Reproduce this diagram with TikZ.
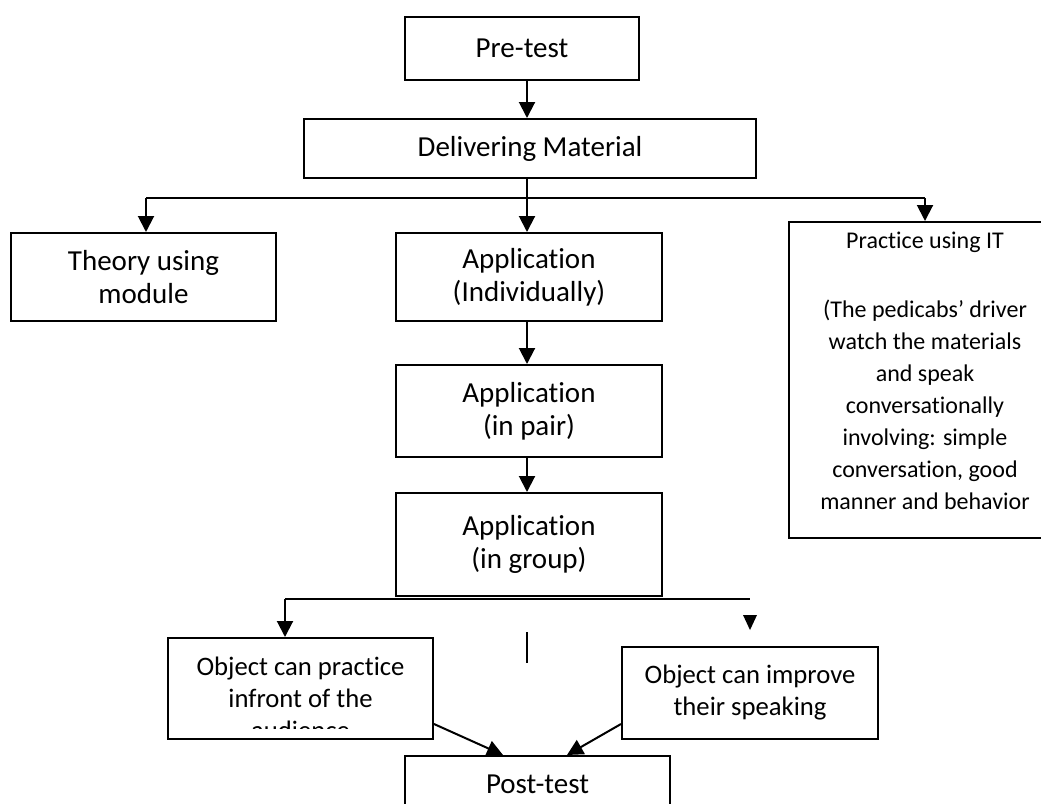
\documentclass[tikz,border=0pt]{standalone}
\usepackage{fontspec}
\setmainfont[Ligatures=NoCommon]{Carlito}
\usetikzlibrary{arrows.meta,calc}
\begin{document}
\begin{tikzpicture}[x=0.75pt,y=-0.75pt,
  box/.style={draw, line width=1.5pt, inner sep=0pt, align=center},
  big/.style={font=\fontsize{21.75}{24.75}\selectfont},
  mid/.style={font=\fontsize{20}{24}\selectfont},
  txt/.style={inner sep=0pt, align=center},
  line/.style={line width=1.5pt},
  arr/.style={line width=1.5pt, -{Triangle[length=12pt,width=12pt]}},
]
\clip (0,0) rectangle (1041,803);
\useasboundingbox (0,0) rectangle (1041,803);

\node[box, big, minimum width=175.5pt, minimum height=47.25pt] (pre) at (522,48.5) {Pre-test};
\node[box, big, minimum width=339pt, minimum height=44.25pt] (deliv) at (530,148.5) {Delivering Material};
\node[box, big, minimum width=198.75pt, minimum height=66pt] (theory) at (143.5,277) {Theory using\\module};
\node[box, big, minimum width=199.5pt, minimum height=66pt] (appind) at (529,277) {Application\\(Individually)};
\node[box, minimum width=204pt, minimum height=237pt] (practice) at (925,380)
  {\parbox[c][237pt][t]{204pt}{\centering\fontsize{18}{24}\selectfont
   \rule{0pt}{20pt}Practice using IT\\[27.75pt]
   (The pedicabs’ driver\\watch the materials\\and speak\\conversationally\\involving: simple\\conversation, good\\manner and behavior}};
\node[box, big, minimum width=199.5pt, minimum height=69pt] (apppair) at (529,411) {Application\\(in pair)};
\node[box, big, minimum width=199.5pt, minimum height=77.25pt] (appgroup) at (529,544.5) {Application\\(in group)};
\node[box, minimum width=198.75pt, minimum height=75.75pt] (objprac) at (300.5,688.5) {};
\begin{scope}
  \clip (168,638) rectangle (433,728);
  \node[txt, mid, anchor=north] (objpractxt) at (300.5,657) {Object can practice\\infront of the\\audience};
\end{scope}
\node[box, mid, minimum width=192pt, minimum height=69pt] (objimp) at (750,693) {Object can improve\\their speaking};
\node[box, big, minimum width=198.75pt, minimum height=42pt] (post) at (537.5,784) {Post-test};

% top connectors
\coordinate (j1) at (527,198);
\coordinate (jt) at (146,198);
\draw[arr] (pre.south -| j1) -- (deliv.north -| j1);
\draw[line] (deliv.south -| j1) -- (j1);
\draw[line] (jt) -- (j1 -| practice.north);
\draw[arr] (jt) -- (jt |- theory.north);
\draw[arr] (j1) -- (appind.north -| j1);
\draw[arr] (j1 -| practice.north) -- (practice.north);
\draw[arr] (appind.south -| j1) -- (apppair.north -| j1);
\draw[arr] (apppair.south -| j1) -- (appgroup.north -| j1);

% bottom connectors
\coordinate (b1) at (285,599);
\coordinate (b2) at (750,599);
\draw[line] (b1) -- (b2);
\draw[arr] (b1) -- (b1 |- objprac.north);
\fill (743,615) -- (757,615) -- (750,630) -- cycle;
\coordinate (o1) at (527,632);
\coordinate (o2) at (527,663);
\draw[line] (o1) -- (o2);
\draw[arr] ($(objprac.south east)+(0,-16)$) -- ($(post.north)+(-34.5,0)$);
\draw[arr] ($(objimp.south west)+(0,-16)$) -- ($(post.north)+(29.5,0)$);
\end{tikzpicture}
\end{document}
